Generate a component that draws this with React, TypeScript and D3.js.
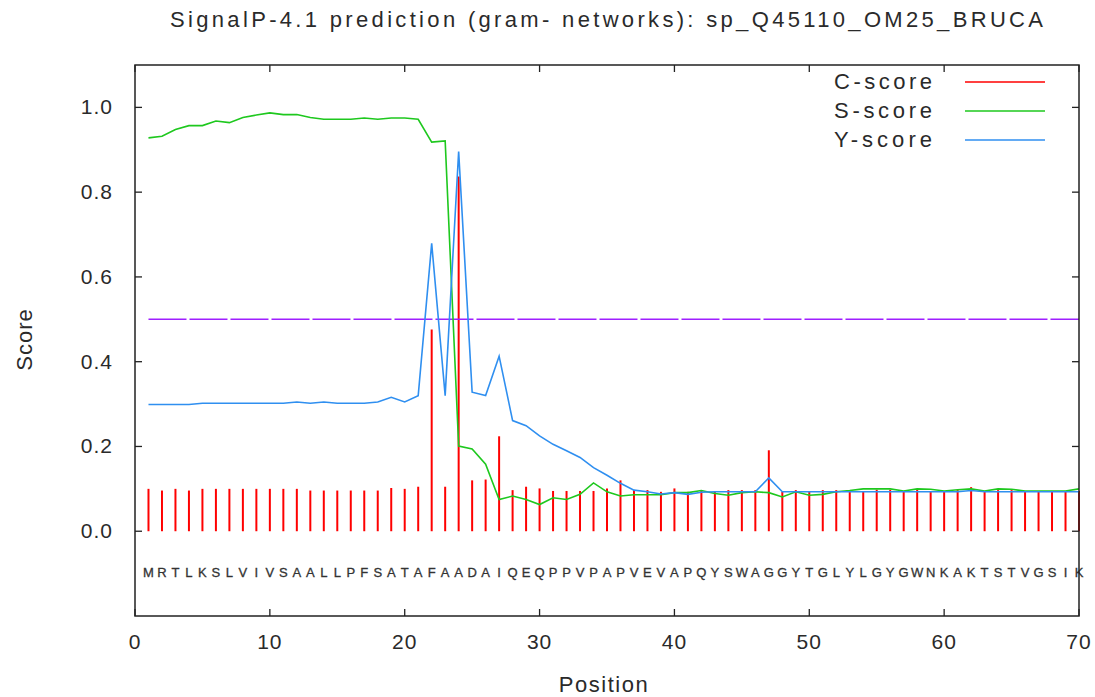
import React from 'react';
import * as d3 from 'd3';

const sequence = 'MRTLKSLVIVSAALLPFSATAFAADAIQEQPPVPAPVEVAPQYSWAGGYTGLYLGYGWNKAKTSTVGSIK'.split('');

const cScore = [
    0.100, 0.096, 0.100, 0.096, 0.100, 0.100, 0.100, 0.100, 0.100, 0.100,
    0.100, 0.100, 0.096, 0.096, 0.096, 0.096, 0.096, 0.096, 0.102, 0.100,
    0.105, 0.476, 0.105, 0.837, 0.120, 0.122, 0.224, 0.097, 0.105, 0.101,
    0.095, 0.095, 0.095, 0.095, 0.101, 0.120, 0.097, 0.097, 0.093, 0.101,
    0.093, 0.097, 0.093, 0.097, 0.097, 0.097, 0.191, 0.093, 0.097, 0.093,
    0.097, 0.097, 0.093, 0.093, 0.098, 0.098, 0.093, 0.098, 0.093, 0.093,
    0.097, 0.104, 0.093, 0.097, 0.097, 0.093, 0.093, 0.093, 0.093, 0.095,
];

const sScore = [
    0.928, 0.932, 0.948, 0.957, 0.957, 0.968, 0.964, 0.976, 0.982, 0.987,
    0.983, 0.983, 0.976, 0.972, 0.972, 0.972, 0.975, 0.972, 0.975, 0.975,
    0.972, 0.918, 0.921, 0.201, 0.194, 0.158, 0.075, 0.083, 0.075, 0.063,
    0.079, 0.075, 0.087, 0.114, 0.093, 0.083, 0.086, 0.086, 0.086, 0.091,
    0.091, 0.096, 0.089, 0.085, 0.091, 0.093, 0.091, 0.081, 0.093, 0.085,
    0.087, 0.093, 0.096, 0.100, 0.100, 0.100, 0.095, 0.100, 0.099, 0.095,
    0.098, 0.100, 0.095, 0.100, 0.099, 0.095, 0.095, 0.095, 0.095, 0.100,
];

const yScore = [
    0.299, 0.299, 0.299, 0.299, 0.302, 0.302, 0.302, 0.302, 0.302, 0.302,
    0.302, 0.305, 0.302, 0.305, 0.302, 0.302, 0.302, 0.305, 0.316, 0.305,
    0.320, 0.679, 0.320, 0.896, 0.328, 0.320, 0.413, 0.261, 0.249, 0.225,
    0.205, 0.190, 0.174, 0.150, 0.132, 0.113, 0.097, 0.093, 0.088, 0.091,
    0.087, 0.092, 0.093, 0.093, 0.093, 0.093, 0.126, 0.093, 0.093, 0.093,
    0.093, 0.093, 0.093, 0.093, 0.093, 0.093, 0.093, 0.093, 0.093, 0.093,
    0.093, 0.096, 0.093, 0.093, 0.093, 0.093, 0.093, 0.093, 0.093, 0.093,
];

const xTicks = [0, 10, 20, 30, 40, 50, 60, 70];
const yTicks = [0, 0.2, 0.4, 0.6, 0.8, 1.0];
const threshold = 0.5;

const legend = [
    { label: 'C-score', color: '#ff0000' },
    { label: 'S-score', color: '#1ec81e' },
    { label: 'Y-score', color: '#2f8ff0' },
];

const FONT = '"Liberation Sans", Arial, sans-serif';
const TEXT = '#2a2a2a';

export default function App() {
    const width = 1095;
    const height = 697;
    const margin = { top: 65, right: 16, bottom: 81, left: 135 };

    const x = d3.scaleLinear().domain([0, 70]).range([margin.left, width - margin.right]);
    const y = d3.scaleLinear().domain([-0.2, 1.1]).range([height - margin.bottom, margin.top]);

    const pos = (i: number) => i + 1;
    const line = d3.line<number>()
        .x((d, i) => x(pos(i)))
        .y(d => y(d));

    const x0 = x.range()[0], x1 = x.range()[1];
    const y0 = y.range()[0], y1 = y.range()[1];
    const tick = 7;

    return (
        <div style={{ position: 'absolute', left: 0, top: 0 }}>
            <svg width={width} height={height} style={{ display: 'block', background: '#fff' }}>
                <text x={170} y={27} textLength={873} lengthAdjust="spacing"
                    fontFamily={FONT} fontSize={22} fill={TEXT}>
                    SignalP-4.1 prediction (gram- networks): sp_Q45110_OM25_BRUCA
                </text>

                {/* C-score bars */}
                <g stroke="#ff0000" strokeWidth={2}>
                    {cScore.map((d, i) => (
                        <line key={i} x1={x(pos(i))} x2={x(pos(i))} y1={y(0)} y2={y(d)} />
                    ))}
                </g>

                {/* threshold */}
                <line x1={x(1)} x2={x1} y1={y(threshold)} y2={y(threshold)}
                    stroke="#9f1fff" strokeWidth={1.6} strokeDasharray="38 3" />

                <path d={line(sScore) || ''} fill="none" stroke="#1ec81e" strokeWidth={1.6} />
                <path d={line(yScore) || ''} fill="none" stroke="#2f8ff0" strokeWidth={1.6} />

                {/* sequence */}
                <g fontFamily={FONT} fontSize={13} fill="#333" textAnchor="middle" stroke="#333" strokeWidth={0.3}>
                    {sequence.map((aa, i) => (
                        <text key={i} x={x(pos(i))} y={577}>{aa}</text>
                    ))}
                </g>

                {/* frame */}
                <rect x={x0} y={y1} width={x1 - x0} height={y0 - y1} fill="none" stroke="#222" strokeWidth={1.5} />

                <g stroke="#222" strokeWidth={1.3}>
                    {xTicks.map(t => (
                        <g key={t}>
                            <line x1={x(t)} x2={x(t)} y1={y0} y2={y0 - tick} />
                            <line x1={x(t)} x2={x(t)} y1={y1} y2={y1 + tick} />
                        </g>
                    ))}
                    {yTicks.map(t => (
                        <g key={t}>
                            <line x1={x0} x2={x0 + tick} y1={y(t)} y2={y(t)} />
                            <line x1={x1} x2={x1 - tick} y1={y(t)} y2={y(t)} />
                        </g>
                    ))}
                </g>

                <g fontFamily={FONT} fontSize={21} fill={TEXT} letterSpacing={1}>
                    {xTicks.map(t => (
                        <text key={t} x={x(t)} y={649} textAnchor="middle">{t}</text>
                    ))}
                    {yTicks.map(t => (
                        <text key={t} x={113} y={y(t) + 7} textAnchor="end">{d3.format('.1f')(t)}</text>
                    ))}
                </g>

                <text x={(x0 + x1) / 2 - 3} y={692} textAnchor="middle" fontFamily={FONT} fontSize={22}
                    fill={TEXT} letterSpacing={1.5}>Position</text>
                <text transform={`translate(32,${(y0 + y1) / 2 - 1}) rotate(-90)`} textAnchor="middle"
                    fontFamily={FONT} fontSize={22} fill={TEXT} letterSpacing={1}>Score</text>

                {/* legend */}
                <g fontFamily={FONT} fontSize={22} fill={TEXT}>
                    {legend.map((l, i) => (
                        <g key={l.label}>
                            <text x={834} y={89 + i * 29} textLength={98} lengthAdjust="spacing">{l.label}</text>
                            <line x1={965} x2={1045} y1={82 + i * 29} y2={82 + i * 29} stroke={l.color} strokeWidth={1.6} />
                        </g>
                    ))}
                </g>
            </svg>
        </div>
    );
}
